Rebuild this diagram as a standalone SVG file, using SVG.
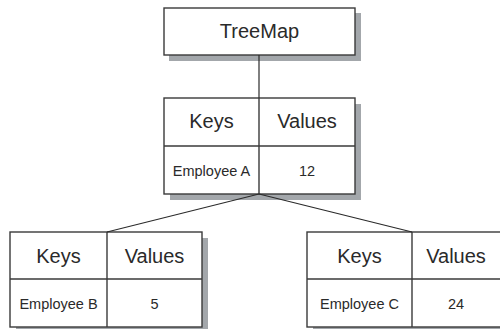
<svg xmlns="http://www.w3.org/2000/svg" width="500" height="329" viewBox="0 0 500 329">
  <style>
    .shadow { fill: #a3a7ab; }
    .box { fill: #ffffff; stroke: #3a3a3a; stroke-width: 1.4; }
    .rule { stroke: #3a3a3a; stroke-width: 1.4; fill: none; }
    .link { stroke: #2a2a2a; stroke-width: 1.2; fill: none; }
    .big { font-family: "Liberation Sans", Arial, sans-serif; font-size: 20px; fill: #2a2a2a; text-anchor: middle; }
    .small { font-family: "Liberation Sans", Arial, sans-serif; font-size: 14.5px; fill: #2a2a2a; text-anchor: middle; }
  </style>

  <!-- root -->
  <g id="treemap">
    <rect class="shadow" x="169" y="13" width="192" height="48"/>
    <rect class="box" x="164" y="8" width="191" height="47"/>
    <text class="big" x="259.5" y="38">TreeMap</text>
  </g>

  <!-- root entry -->
  <g id="entry-a">
    <rect class="shadow" x="170" y="104" width="191" height="96"/>
    <rect class="box" x="164" y="98" width="191" height="96"/>
    <line class="rule" x1="164" y1="146" x2="355" y2="146"/>
    <line class="rule" x1="259" y1="98" x2="259" y2="194"/>
    <text class="big" x="211.5" y="128">Keys</text>
    <text class="big" x="307" y="128">Values</text>
    <text class="small" x="211.5" y="175.5">Employee A</text>
    <text class="small" x="307" y="175.5">12</text>
  </g>

  <!-- left child -->
  <g id="entry-b">
    <rect class="shadow" x="16" y="238" width="192" height="96"/>
    <rect class="box" x="10" y="232" width="192" height="95"/>
    <line class="rule" x1="10" y1="279" x2="202" y2="279"/>
    <line class="rule" x1="107" y1="232" x2="107" y2="327"/>
    <text class="big" x="58.5" y="262.5">Keys</text>
    <text class="big" x="154.5" y="262.5">Values</text>
    <text class="small" x="58.5" y="309">Employee B</text>
    <text class="small" x="154.5" y="309">5</text>
  </g>

  <!-- right child -->
  <g id="entry-c">
    <rect class="shadow" x="313" y="238" width="192" height="96"/>
    <rect class="box" x="307" y="232" width="194" height="95"/>
    <line class="rule" x1="307" y1="279" x2="501" y2="279"/>
    <line class="rule" x1="412" y1="232" x2="412" y2="327"/>
    <text class="big" x="359.5" y="262.5">Keys</text>
    <text class="big" x="456" y="262.5">Values</text>
    <text class="small" x="359.5" y="309">Employee C</text>
    <text class="small" x="456" y="309">24</text>
  </g>

  <!-- connectors, drawn over the drop shadows -->
  <g id="connectors">
    <line class="link" x1="259" y1="55" x2="259" y2="98"/>
    <line class="link" x1="259" y1="194" x2="107" y2="232"/>
    <line class="link" x1="259" y1="194" x2="412" y2="232"/>
  </g>
</svg>
